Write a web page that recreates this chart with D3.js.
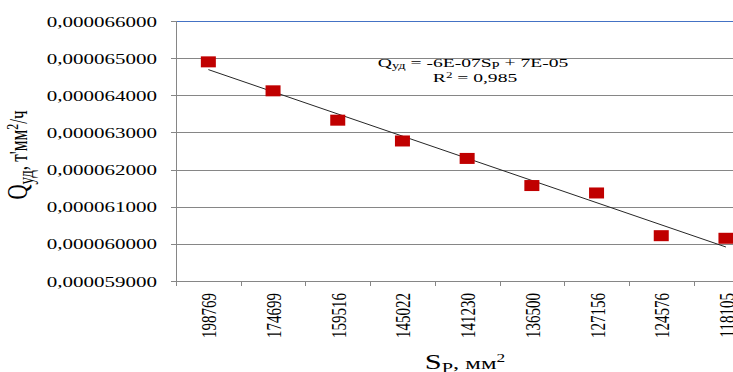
<!DOCTYPE html>
<html>
<head>
<meta charset="utf-8">
<script src="https://cdn.jsdelivr.net/npm/d3@7"></script>
<style>
  html, body { margin: 0; padding: 0; background: #fff; overflow: hidden; }
  svg { display: block; }
  text { font-family: "Liberation Serif", "Times New Roman", serif; fill: #000; }
</style>
</head>
<body>
<svg id="chart" width="733" height="372"></svg>
<script>
// ---- data ----
const categories = ["198769", "174699", "159516", "145022", "141230", "136500", "127156", "124576", "118105"];
const values = [0.0000649, 0.00006412, 0.00006333, 0.00006277, 0.0000623, 0.00006157, 0.00006137, 0.00006022, 0.00006015];
const yTicks = [0.000059, 0.00006, 0.000061, 0.000062, 0.000063, 0.000064, 0.000065, 0.000066];
const yTickLabels = ["0,000059000", "0,000060000", "0,000061000", "0,000062000", "0,000063000", "0,000064000", "0,000065000", "0,000066000"];

const W = 733, H = 372;
const plotLeft = 176, plotTop = 21, plotBottom = 281, band = 64.7;
const SX = 1.45; // horizontal text stretch seen in the reference

const svg = d3.select("#chart");

const x = d3.scaleBand().domain(categories).range([plotLeft, plotLeft + band * categories.length]).paddingInner(0).paddingOuter(0);
const y = d3.scaleLinear().domain([0.000059, 0.000066]).range([plotBottom, plotTop]);

// gridlines
svg.append("g").selectAll("line").data(yTicks).join("line")
  .attr("x1", plotLeft).attr("x2", W + 40)
  .attr("y1", d => Math.round(y(d)) + 0.5).attr("y2", d => Math.round(y(d)) + 0.5)
  .attr("stroke", (d, i) => i === yTicks.length - 1 ? "#4472C4" : "#868686")
  .attr("stroke-width", 1);

// y axis line + ticks
svg.append("line").attr("x1", plotLeft + 0.5).attr("x2", plotLeft + 0.5).attr("y1", plotTop).attr("y2", plotBottom + 1)
  .attr("stroke", "#868686");
svg.append("g").selectAll("line").data(yTicks).join("line")
  .attr("x1", plotLeft - 5).attr("x2", plotLeft)
  .attr("y1", d => Math.round(y(d)) + 0.5).attr("y2", d => Math.round(y(d)) + 0.5)
  .attr("stroke", "#868686");

// y tick labels
svg.append("g").selectAll("text").data(yTicks).join("text")
  .attr("transform", d => `translate(157,${y(d) + 5.5}) scale(${SX},1)`)
  .attr("text-anchor", "end")
  .style("font-size", "14.5px")
  .text((d, i) => yTickLabels[i]);

// x axis line + ticks (at band boundaries)
svg.append("line").attr("x1", plotLeft).attr("x2", W + 40).attr("y1", plotBottom + 0.5).attr("y2", plotBottom + 0.5)
  .attr("stroke", "#868686");
const bounds = categories.map(c => x(c));
svg.append("g").selectAll("line").data(bounds).join("line")
  .attr("x1", d => Math.round(d) + 0.5).attr("x2", d => Math.round(d) + 0.5)
  .attr("y1", plotBottom).attr("y2", plotBottom + 5)
  .attr("stroke", "#868686");

// x tick labels (rotated)
svg.append("g").selectAll("text").data(categories).join("text")
  .attr("transform", d => `translate(${x(d) + x.bandwidth() / 2 + 8},293) scale(${SX},1) rotate(-90)`)
  .attr("text-anchor", "end")
  .style("font-size", "15px")
  .text(d => d);

// trendline (linear regression over category index)
const n = values.length;
const idx = d3.range(1, n + 1);
const mx = d3.mean(idx), my = d3.mean(values);
const slope = d3.sum(idx, (k, i) => (k - mx) * (values[i] - my)) / d3.sum(idx, k => (k - mx) * (k - mx));
const icpt = my - slope * mx;
svg.append("line")
  .attr("x1", x(categories[0]) + x.bandwidth() / 2)
  .attr("y1", y(icpt + slope * 1))
  .attr("x2", x(categories[n - 1]) + x.bandwidth() / 2)
  .attr("y2", y(icpt + slope * n))
  .attr("stroke", "#262626").attr("stroke-width", 1);

// markers
const mw = 15, mh = 11;
svg.append("g").selectAll("rect").data(values).join("rect")
  .attr("x", (d, i) => x(categories[i]) + x.bandwidth() / 2 - mw / 2)
  .attr("y", d => y(d) - mh / 2)
  .attr("width", mw).attr("height", mh)
  .attr("fill", "#C00000");

// equation
const eq = svg.append("text")
  .attr("transform", `translate(473,67) scale(${SX},1)`)
  .attr("text-anchor", "middle")
  .style("font-size", "13.5px");
eq.append("tspan").text("Q");
eq.append("tspan").attr("dy", 2).style("font-size", "10px").text("уд");
eq.append("tspan").attr("dy", -2).text(" = -6E-07S");
eq.append("tspan").attr("dy", 2).style("font-size", "10px").text("Р");
eq.append("tspan").attr("dy", -2).text(" + 7E-05");

const r2 = svg.append("text")
  .attr("transform", `translate(475,82) scale(${SX},1)`)
  .attr("text-anchor", "middle")
  .style("font-size", "13.5px");
r2.append("tspan").text("R");
r2.append("tspan").attr("dy", -4).style("font-size", "9px").text("2");
r2.append("tspan").attr("dy", 4).text(" = 0,985");

// y axis title
const yt = svg.append("text")
  .attr("transform", `translate(27,155) scale(${SX},1) rotate(-90)`)
  .attr("text-anchor", "middle")
  .style("font-size", "21px");
yt.append("tspan").text("Q");
yt.append("tspan").attr("dy", 4).style("font-size", "15px").text("уд");
yt.append("tspan").attr("dy", -4).style("font-size", "17px").text(", т'мм");
yt.append("tspan").attr("dy", -6).style("font-size", "12px").text("2");
yt.append("tspan").attr("dy", 6).style("font-size", "17px").text("/ч");

// x axis title
const xt = svg.append("text")
  .attr("transform", `translate(465,369) scale(${SX},1)`)
  .attr("text-anchor", "middle")
  .style("font-size", "21px");
xt.append("tspan").text("S");
xt.append("tspan").attr("dy", 4).style("font-size", "14px").text("Р");
xt.append("tspan").attr("dy", -4).style("font-size", "17px").text(", мм");
xt.append("tspan").attr("dy", -7).style("font-size", "12px").text("2");
</script>
</body>
</html>
